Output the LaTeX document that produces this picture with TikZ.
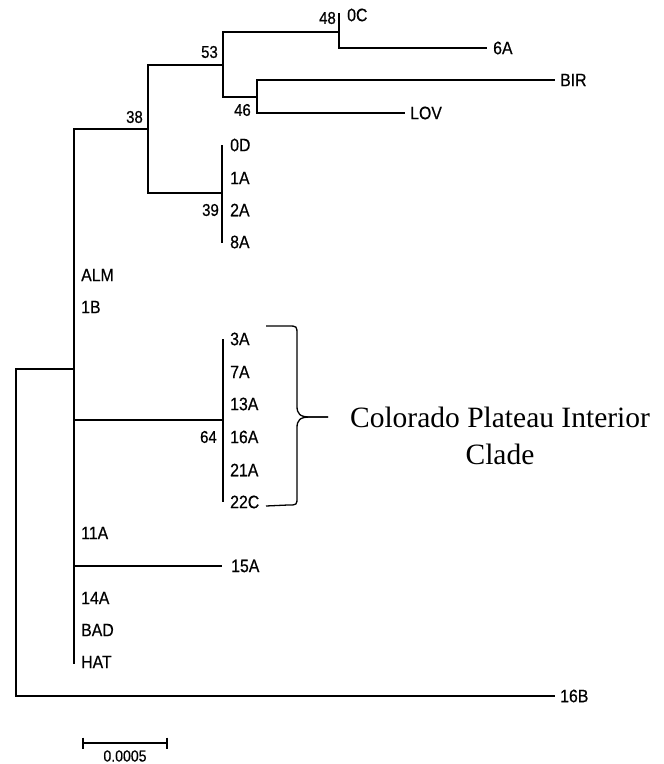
\documentclass[tikz,border=0pt]{standalone}
\usepackage{fontspec}
\setmainfont{Liberation Serif}
\newfontfamily\labfont[FakeStretch=0.88,FakeBold=0.5]{Liberation Sans}
\begin{document}
\begin{tikzpicture}[x=1pt,y=-1pt,
  br/.style={line width=1.6pt},
  leaf/.style={anchor=west, inner sep=0pt, font=\labfont\fontsize{18}{18}\selectfont},
  boot/.style={anchor=east, inner sep=0pt, font=\labfont\fontsize{17}{17}\selectfont},
  cladetext/.style={align=center, inner sep=0pt, font=\fontsize{29.5}{37}\selectfont},
  scaletext/.style={inner sep=0pt, font=\labfont\fontsize{16}{16}\selectfont}]
\useasboundingbox (0,0) rectangle (664,764);
% leaves
\node[leaf] (l0C) at (347,15) {0C};
\node[leaf] (l6A) at (493,48) {6A};
\node[leaf] (lBIR) at (560,80) {BIR};
\node[leaf] (lLOV) at (410,113) {LOV};
\node[leaf] (l0D) at (230,145) {0D};
\node[leaf] (l1A) at (230,178) {1A};
\node[leaf] (l2A) at (230,210) {2A};
\node[leaf] (l8A) at (230,242) {8A};
\node[leaf] (lALM) at (81,275) {ALM};
\node[leaf] (l1B) at (81,307) {1B};
\node[leaf] (l3A) at (230,339) {3A};
\node[leaf] (l7A) at (230,372) {7A};
\node[leaf] (l13A) at (230,404) {13A};
\node[leaf] (l16A) at (230,437) {16A};
\node[leaf] (l21A) at (230,470) {21A};
\node[leaf] (l22C) at (230,502) {22C};
\node[leaf] (l11A) at (81,533) {11A};
\node[leaf] (l15A) at (231,566) {15A};
\node[leaf] (l14A) at (81,598) {14A};
\node[leaf] (lBAD) at (81,630) {BAD};
\node[leaf] (lHAT) at (81,662) {HAT};
\node[leaf] (l16B) at (560,696) {16B};
% internal nodes
\coordinate (rt) at (16,530);
\coordinate (nb) at (74,369);
\coordinate (n38) at (148,129);
\coordinate (n53) at (223,65);
\coordinate (n48) at (339,32);
\coordinate (n46) at (257,97);
\coordinate (n39) at (222,193);
\coordinate (n64) at (223,420);
% branches
\draw[br] (rt) |- (nb);
\draw[br] (rt) |- ([xshift=-5pt]l16B.west);
\draw[br] (nb) |- (n38);
\draw[br] (nb) |- (n64);
\draw[br] (nb) |- ([xshift=-9pt]l15A.west);
\draw[br] (nb) |- ([xshift=-7pt,yshift=-2pt]lHAT.west);
\draw[br] (n38) |- (n53);
\draw[br] (n38) |- (n39);
\draw[br] (n53) |- (n48);
\draw[br] (n53) |- (n46);
\draw[br] (n48) |- ([xshift=-8pt,yshift=2pt]l0C.west);
\draw[br] (n48) |- ([xshift=-6pt]l6A.west);
\draw[br] (n46) |- ([xshift=-5pt]lBIR.west);
\draw[br] (n46) |- ([xshift=-5pt]lLOV.west);
\draw[br] (n39) |- ([xshift=-8pt]l0D.west);
\draw[br] (n39) |- ([xshift=-8pt,yshift=-1pt]l8A.west);
\draw[br] (n64) |- ([xshift=-7pt]l3A.west);
\draw[br] (n64) |- ([xshift=-7pt]l22C.west);
% bootstrap values
\node[boot] (b48) at (336,18) {48};
\node[boot] (b53) at (218,52) {53};
\node[boot] (b46) at (251,110) {46};
\node[boot] (b38) at (143,117) {38};
\node[boot] (b39) at (219,210) {39};
\node[boot] (b64) at (217,437) {64};
% brace
\draw[line width=1.3pt] (266,326) -- (288,326) .. controls (297,326) .. (297,335) -- (297,406)
  .. controls (297,414) and (300,417) .. (310,417) -- (328,417);
\draw[line width=1.3pt] (328,417) -- (310,417) .. controls (300,417) and (297,420) .. (297,428)
  -- (297,497) .. controls (297,505) .. (288,505) -- (266,506);
\node[cladetext] (clade) at (500,436) {Colorado Plateau Interior\\Clade};
% scale bar
\coordinate (sbL) at (83,743);
\coordinate (sbR) at (167,743);
\draw[br] (sbL) -- (sbR);
\draw[br] ([yshift=5.5pt]sbL) -- ([yshift=-5.5pt]sbL);
\draw[br] ([yshift=5.5pt]sbR) -- ([yshift=-5.5pt]sbR);
\node[scaletext] (sbt) at (125,756) {0.0005};
\end{tikzpicture}
\end{document}
